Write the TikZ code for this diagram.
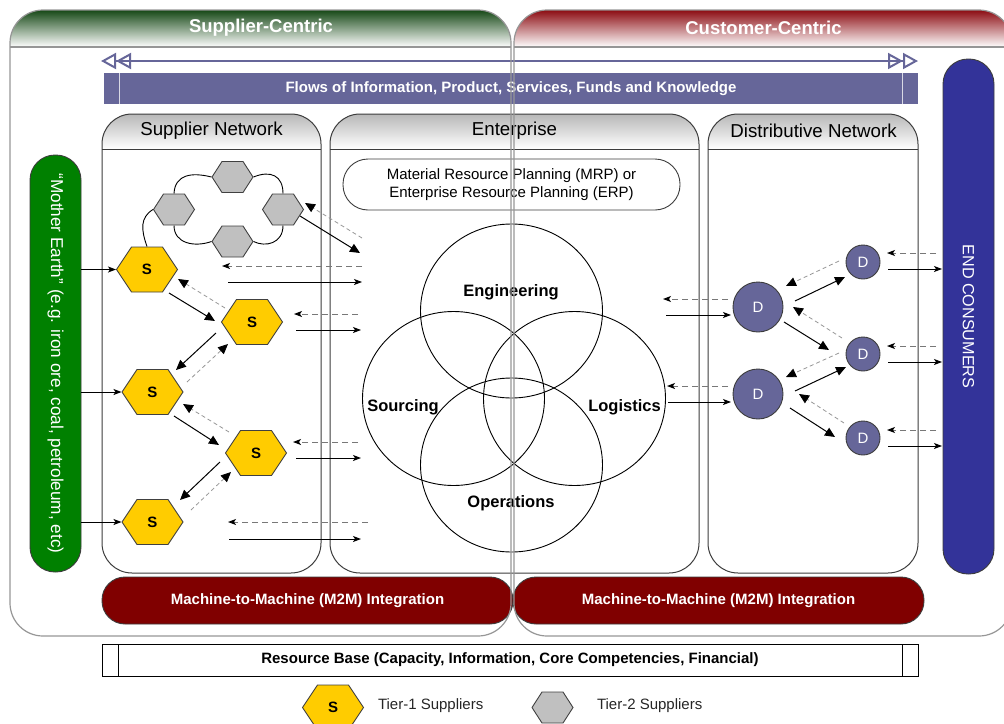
\documentclass[tikz,border=0pt]{standalone}
\usepackage{fontspec}
\setmainfont{Liberation Sans}
\usetikzlibrary{arrows.meta,calc,shapes.geometric}

\definecolor{hexyellow}{RGB}{255,204,0}
\definecolor{hexgray}{RGB}{192,192,192}
\definecolor{hexline}{RGB}{64,64,64}
\definecolor{flowblue}{RGB}{102,102,153}
\definecolor{endblue}{RGB}{51,51,153}
\definecolor{earthgreen}{RGB}{0,128,0}
\definecolor{m2mred}{RGB}{128,0,0}
\definecolor{greentop}{RGB}{22,72,22}
\definecolor{redtop}{RGB}{140,12,18}
\definecolor{panelline}{RGB}{150,150,150}
\definecolor{boxline}{RGB}{60,60,60}
\definecolor{dashgray}{RGB}{120,120,120}
\definecolor{dashlight}{RGB}{150,150,150}

\tikzset{
  every node/.style={inner sep=0pt, outer sep=0pt},
  panelhead/.style={text=white, font=\bfseries\fontsize{18.5}{22}\selectfont},
  subboxline/.style={draw=boxline, line width=1pt, rounded corners=30pt},
  subhead/.style={font=\fontsize{18.7}{22}\selectfont},
  hexagon/.style 2 args={rectangle, inner sep=0pt, path picture={
     \filldraw[fill=#1, draw=hexline, line width=0.9pt]
      ([xshift=0.5pt]path picture bounding box.west)
      -- ([xshift=#2, yshift=-0.5pt]path picture bounding box.north west)
      -- ([xshift=-#2, yshift=-0.5pt]path picture bounding box.north east)
      -- ([xshift=-0.5pt]path picture bounding box.east)
      -- ([xshift=-#2, yshift=0.5pt]path picture bounding box.south east)
      -- ([xshift=#2, yshift=0.5pt]path picture bounding box.south west) -- cycle;}},
  hexS/.style={hexagon={hexyellow}{15.5pt}, minimum width=62pt, minimum height=46pt,
     font=\bfseries\fontsize{15}{18}\selectfont},
  hexG/.style={hexagon={hexgray}{10.5pt}, minimum width=42pt, minimum height=32pt},
  dnode/.style={circle, draw=boxline, line width=0.9pt, fill=flowblue, text=white,
     font=\fontsize{15}{18}\selectfont, minimum size=#1},
  venn/.style={ellipse, draw=black, line width=0.9pt, minimum width=182pt, minimum height=174pt},
  vennlbl/.style={font=\bfseries\fontsize{16.5}{20}\selectfont},
  m2mbar/.style={fill=m2mred, draw=boxline, line width=0.9pt, rounded corners=23pt,
     minimum width=411pt, minimum height=47pt, text=white, font=\bfseries\fontsize{15}{18}\selectfont},
  vbar/.style={draw=boxline, line width=0.9pt, rounded corners=25pt, rotate=-90, text=white},
  legtext/.style={anchor=west, text=black!85, font=\fontsize{15}{18}\selectfont},
  ringline/.style={draw=black, line width=0.9pt},
  sarr/.style={draw=black, line width=1pt, -{Stealth[length=8pt,width=6pt,inset=2pt]}},
  barr/.style={draw=black, line width=1pt, -{Triangle[length=10pt,width=9pt]}},
  darr/.style={draw=dashgray, line width=1pt, dash pattern=on 6pt off 4pt,
     -{Stealth[length=8pt,width=6pt,inset=2pt,color=black]}},
  ddarr/.style={draw=dashlight, line width=0.8pt, dash pattern=on 4pt off 3pt,
     -{Triangle[length=10pt,width=9pt,color=black]}},
  flowarr/.style={draw=flowblue, line width=2pt,
     arrows={Triangle[open,length=15pt,width=16pt] Triangle[open,length=15pt,width=16pt]-Triangle[open,length=15pt,width=16pt] Triangle[open,length=15pt,width=16pt]}},
}

\begin{document}
\begin{tikzpicture}[x=1pt,y=-1pt]
\useasboundingbox (0,0) rectangle (1004,723);
\clip (0,0) rectangle (1004,723);

% panel headers
\begin{scope}
  \clip[rounded corners=33pt] (10,10) rectangle (511,636);
  \shade[top color=greentop, middle color=greentop!65!white, bottom color=white] (10,10) rectangle (511,47);
\end{scope}
\begin{scope}
  \clip[rounded corners=33pt] (514,10) rectangle (1012,636);
  \shade[top color=redtop, middle color=redtop!65!white, bottom color=white] (514,10) rectangle (1012,47);
\end{scope}
\node[panelhead] (sc) at (261,28) {Supplier-Centric};
\node[panelhead] (cc) at (763.5,28) {Customer-Centric};

% flows
\coordinate (flL) at (101,61);
\coordinate (flR) at (918,61);
\draw[flowarr] (flL) -- (flR);
\node[fill=flowblue, minimum width=814pt, minimum height=31pt, text=white,
  font=\bfseries\fontsize{15}{18}\selectfont] (flows) at (511,88.5)
  {Flows of Information, Product, Services, Funds and Knowledge};
\draw[white!75!flowblue, line width=1pt] ([xshift=15pt]flows.north west) -- ([xshift=15pt]flows.south west);
\draw[white!75!flowblue, line width=1pt] ([xshift=-16pt]flows.north east) -- ([xshift=-16pt]flows.south east);

% sub boxes
\begin{scope}
  \clip[rounded corners=30pt] (102,114) rectangle (321,573);
  \shade[top color=black!28, bottom color=white] (102,114) rectangle (321,149);
\end{scope}
\begin{scope}
  \clip[rounded corners=30pt] (330,114) rectangle (699,573);
  \shade[top color=black!28, bottom color=white] (330,114) rectangle (699,149);
\end{scope}
\begin{scope}
  \clip[rounded corners=30pt] (708,114) rectangle (918,573);
  \shade[top color=black!28, bottom color=white] (708,114) rectangle (918,149);
\end{scope}
\draw[subboxline] (102,114) rectangle (321,573);
\draw[subboxline] (330,114) rectangle (699,573);
\draw[subboxline] (708,114) rectangle (918,573);
\draw[boxline, line width=1pt] (102,149) -- (321,149);
\draw[boxline, line width=1pt] (330,149) -- (699,149);
\draw[boxline, line width=1pt] (708,149) -- (918,149);
\node[subhead] (snt) at (211.5,131) {Supplier Network};
\node[subhead] (ent) at (514.5,131) {Enterprise};
\node[subhead] (dnt) at (813.5,131) {Distributive Network};

% side bars
\node[vbar, fill=earthgreen, minimum width=417pt, minimum height=51pt,
  font=\fontsize{17.2}{20}\selectfont] (earth) at (55.5,363.5)
  {“Mother Earth” (e.g. iron ore, coal, petroleum, etc)};
\node[vbar, fill=endblue, minimum width=515pt, minimum height=51pt,
  font=\fontsize{16.2}{19}\selectfont] (ec) at (968.5,316.5) {END CONSUMERS};

% enterprise
\node[draw=boxline, line width=0.9pt, rounded corners=25pt, minimum width=337pt,
  minimum height=51pt, align=center, font=\fontsize{15}{18}\selectfont] (mrp) at (511.5,184.5)
  {Material Resource Planning (MRP) or\\Enterprise Resource Planning (ERP)};
\node[venn] (eng) at (511.5,311) {};
\node[venn] (src) at (453.5,398.5) {};
\node[venn] (logi) at (574.5,398.5) {};
\node[venn] (ops) at (511.5,465) {};
\node[vennlbl] (engl) at (511,292) {Engineering};
\node[vennlbl] (srcl) at (403,407) {Sourcing};
\node[vennlbl] (logl) at (624.5,407) {Logistics};
\node[vennlbl] (opsl) at (511,503) {Operations};

% tier-2 ring
\node[hexG] (gt) at (232.5,177) {};
\node[hexG] (gl) at (174,209.5) {};
\node[hexG] (gr) at (283,209.5) {};
\node[hexG] (gb) at (232.5,241.5) {};
% tier-1
\node[hexS] (s1) at (147,269.5) {S};
\node[hexS] (s2) at (252,322) {S};
\node[hexS] (s3) at (152.5,392) {S};
\node[hexS] (s4) at (256,453) {S};
\node[hexS] (s5) at (152.5,522) {S};

\draw[ringline] (gl.north) .. controls +(1,-19) and +(-20,-5) .. (gt.west);
\draw[ringline] (gt.east) .. controls +(17,-7) and +(0,-18) .. (gr.north);
\draw[ringline] (gr.south) .. controls +(0,18) and +(12,6) .. (gb.east);
\draw[ringline] (gb.west) .. controls +(-17,6) and +(0,18) .. (gl.south);
\draw[ringline] (gl.west) .. controls +(-13,8) and +(-6,-17) .. (s1.north);

% earth to suppliers
\draw[sarr] (earth.north |- s1) -- (s1.west);
\draw[sarr] (earth.north |- s3) -- (s3.west);
\draw[sarr] (earth.north |- s5) -- (s5.west);

% supplier chain
\draw[barr] ($(s1)+(22,23.5)$) -- ($(s2)+(-37,-1)$);
\draw[ddarr] ($(s2)+(-27,-14)$) -- ($(s1)+(31,9.5)$);
\draw[barr] ($(s2)+(-36,11)$) -- ($(s3)+(23.5,-22)$);
\draw[ddarr] ($(s3)+(34.5,-10)$) -- ($(s2)+(-24,22)$);
\draw[barr] ($(s3)+(21.5,24)$) -- ($(s4)+(-37,-8)$);
\draw[ddarr] ($(s4)+(-27,-21)$) -- ($(s3)+(30.5,12)$);
\draw[barr] ($(s4)+(-36,9)$) -- ($(s5)+(27.5,-22)$);
\draw[ddarr] ($(s5)+(38.5,-12)$) -- ($(s4)+(-25,19)$);

% supplier <-> enterprise
\coordinate (e1s) at (360,253);
\coordinate (e1d) at (362,238);
\coordinate (e2d) at (362,266);
\coordinate (e2s) at (362,282);
\coordinate (e3d) at (358,314);
\coordinate (e3s) at (361,330);
\coordinate (e4d) at (358,442);
\coordinate (e4s) at (361,458);
\coordinate (e5d) at (368,522);
\coordinate (e5s) at (361,539);
\draw[barr] ($(gr)+(17,6.5)$) -- (e1s);
\draw[ddarr] (e1d) -- ($(gr)+(22,-6.5)$);
\draw[darr] (e2d) -- ($(s1)+(75,-3.5)$);
\draw[sarr] ($(s1)+(81,12.5)$) -- (e2s);
\draw[darr] (e3d) -- ($(s2)+(42,-8)$);
\draw[sarr] ($(s2)+(44,8)$) -- (e3s);
\draw[darr] (e4d) -- ($(s4)+(37,-11)$);
\draw[sarr] ($(s4)+(40,5)$) -- (e4s);
\draw[darr] (e5d) -- ($(s5)+(75.5,0)$);
\draw[sarr] ($(s5)+(76.5,17)$) -- (e5s);

% distributors
\node[dnode=50pt] (d1) at (758,307) {D};
\node[dnode=50pt] (d2) at (758,394) {D};
\node[dnode=34pt] (dd1) at (863,262) {D};
\node[dnode=34pt] (dd2) at (863,354) {D};
\node[dnode=34pt] (dd3) at (863,438) {D};

\coordinate (l1d) at (663,299);
\coordinate (l1s) at (666,315);
\coordinate (l2d) at (667,386);
\coordinate (l2s) at (668,402);
\draw[darr] ($(d1)+(-30,-8)$) -- (l1d);
\draw[sarr] (l1s) -- ($(d1)+(-27,8)$);
\draw[darr] ($(d2)+(-30,-8)$) -- (l2d);
\draw[sarr] (l2s) -- ($(d2)+(-27,8)$);

\draw[barr] ($(d1)+(37,-6)$) -- ($(dd1)+(-18,15)$);
\draw[ddarr] ($(dd1)+(-24,-1)$) -- ($(d1)+(28,-21)$);
\draw[barr] ($(d1)+(26,15)$) -- ($(dd2)+(-34,-4)$);
\draw[ddarr] ($(dd2)+(-21,-16)$) -- ($(d1)+(35,0)$);
\draw[barr] ($(d2)+(37,-3)$) -- ($(dd2)+(-17,13)$);
\draw[ddarr] ($(dd2)+(-24,-1)$) -- ($(d2)+(28,-17)$);
\draw[barr] ($(d2)+(32,14)$) -- ($(dd3)+(-28,-1)$);
\draw[ddarr] ($(dd3)+(-19,-15)$) -- ($(d2)+(41,0)$);

\draw[darr] ($(dd1)+(73,-9)$) -- ($(dd1)+(24,-9)$);
\draw[sarr] ($(dd1)+(25,7)$) -- ($(dd1)+(79,7)$);
\draw[darr] ($(dd2)+(73,-8)$) -- ($(dd2)+(24,-8)$);
\draw[sarr] ($(dd2)+(25,8)$) -- ($(dd2)+(79,8)$);
\draw[darr] ($(dd3)+(73,-8)$) -- ($(dd3)+(24,-8)$);
\draw[sarr] ($(dd3)+(25,8)$) -- ($(dd3)+(79,8)$);

% M2M bars
\node[m2mbar] (m2mL) at (307.5,600.5) {Machine-to-Machine (M2M) Integration};
\node[m2mbar] (m2mR) at (718.5,600.5) {Machine-to-Machine (M2M) Integration};

% resource base
\node[draw=black, line width=1pt, minimum width=816pt, minimum height=32pt,
  font=\bfseries\fontsize{15}{18}\selectfont] (res) at (510,660)
  {Resource Base (Capacity, Information, Core Competencies, Financial)};
\draw[black, line width=1pt] ([xshift=16pt]res.north west) -- ([xshift=16pt]res.south west);
\draw[black, line width=1pt] ([xshift=-16pt]res.north east) -- ([xshift=-16pt]res.south east);

% legend
\node[hexS] (legS) at (333,707.5) {S};
\node[legtext] (legSt) at (378,706) {Tier-1 Suppliers};
\node[hexG] (legG) at (552.5,707.5) {};
\node[legtext] (legGt) at (597,706) {Tier-2 Suppliers};

% panel outlines on top
\draw[panelline, line width=1.2pt, rounded corners=33pt] (10,10) rectangle (511,636);
\draw[panelline, line width=1.2pt] (10,47) -- (511,47);
\draw[panelline, line width=1.2pt, rounded corners=33pt] (514,10) rectangle (1012,636);
\draw[panelline, line width=1.2pt] (514,47) -- (1012,47);
\end{tikzpicture}
\end{document}
